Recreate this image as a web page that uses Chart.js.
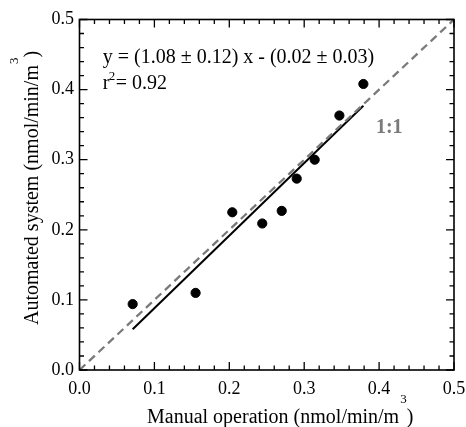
<!DOCTYPE html>
<html>
<head>
<meta charset="utf-8">
<script src="https://cdn.jsdelivr.net/npm/chart.js@4/dist/chart.umd.min.js"></script>
<style>
	html, body { margin: 0; padding: 0; background: #fff; }
	canvas { display: block; }
</style>
</head>
<body>
<canvas id="scatterChart" width="466" height="427"></canvas>
<script>
// measured points: manual vs automated (nmol/min/m3)
const manualX = [0.071, 0.155, 0.204, 0.244, 0.270, 0.290, 0.314, 0.347, 0.379];
const automatedY = [0.094, 0.110, 0.225, 0.209, 0.227, 0.273, 0.300, 0.363, 0.408];

// regression line ends
const fitX = [0.071, 0.379];
const fitY = [0.058, 0.377];

// 1:1 line
const unityX = [0, 0.5];
const unityY = [0, 0.5];

const axisMin = 0;
const axisMax = 0.5;
const minorStep = 0.02;

const serif = "'Liberation Serif', 'Times New Roman', serif";

function toPoints(xs, ys) {
	return xs.map((x, i) => ({ x: x, y: ys[i] }));
}

// рамка, внутренние засечки и подписи
const framePlugin = {
	id: "frame",
	afterDraw(chart) {
		const { ctx, chartArea: a, scales } = chart;
		const xs = scales.x;
		const ys = scales.y;
		ctx.save();

		ctx.strokeStyle = "#000";
		ctx.lineWidth = 1.3;
		const n = Math.round((axisMax - axisMin) / minorStep);
		for (let i = 0; i <= n; i++) {
			const v = axisMin + i * minorStep;
			const len = i % 5 === 0 ? 8 : 4.5;
			const px = xs.getPixelForValue(v);
			const py = ys.getPixelForValue(v);
			ctx.beginPath();
			ctx.moveTo(px, a.bottom); ctx.lineTo(px, a.bottom - len);
			ctx.moveTo(px, a.top); ctx.lineTo(px, a.top + len);
			ctx.moveTo(a.left, py); ctx.lineTo(a.left + len, py);
			ctx.moveTo(a.right, py); ctx.lineTo(a.right - len, py);
			ctx.stroke();
		}
		ctx.lineWidth = 1.6;
		ctx.strokeRect(a.left, a.top, a.right - a.left, a.bottom - a.top);

		// equation
		ctx.fillStyle = "#000";
		ctx.textBaseline = "alphabetic";
		ctx.textAlign = "left";
		ctx.font = "20px " + serif;
		const ex = xs.getPixelForValue(0.031);
		ctx.fillText("y = (1.08 \u00b1 0.12) x - (0.02 \u00b1 0.03)", ex, ys.getPixelForValue(0.4375));
		const ry = ys.getPixelForValue(0.4005);
		ctx.fillText("r", ex, ry);
		ctx.fillText("= 0.92", ex + 13, ry);
		ctx.font = "13px " + serif;
		ctx.fillText("2", ex + 6, ry - 9.5);

		// 1:1 label
		ctx.font = "bold 20px " + serif;
		ctx.fillStyle = "#7a7a7a";
		ctx.textAlign = "center";
		ctx.fillText("1:1", xs.getPixelForValue(0.4136), ys.getPixelForValue(0.3386));

		// axis titles with superscript
		function titleWithSup(main, tail, x, y) {
			ctx.font = "20px " + serif;
			ctx.textAlign = "left";
			const w1 = ctx.measureText(main).width;
			ctx.fillText(main, x, y);
			ctx.font = "13px " + serif;
			ctx.fillText("3", x + w1 + 1, y - 20);
			const w2 = ctx.measureText("3").width;
			ctx.font = "20px " + serif;
			ctx.fillText(tail, x + w1 + w2 + 1, y);
		}
		ctx.fillStyle = "#000";
		titleWithSup("Manual operation (nmol/min/m", ")", 147, 423);

		ctx.translate(38, 325);
		ctx.rotate(-Math.PI / 2);
		titleWithSup("Automated system (nmol/min/m", ")", 0, 0);

		ctx.restore();
	},
};

const ctx = document.getElementById("scatterChart");

const config = {
	type: "scatter",
	data: {
		datasets: [
			{
				label: "1:1",
				type: "line",
				data: toPoints(unityX, unityY),
				borderColor: "#7a7a7a",
				borderWidth: 2.3,
				borderDash: [8, 5],
				pointRadius: 0,
				fill: false,
			},
			{
				label: "fit",
				type: "line",
				data: toPoints(fitX, fitY),
				borderColor: "#000",
				borderWidth: 2,
				pointRadius: 0,
				fill: false,
			},
			{
				label: "data",
				data: toPoints(manualX, automatedY),
				backgroundColor: "#000",
				borderColor: "#000",
				pointRadius: 4.6,
				pointHoverRadius: 4.6,
			},
		],
	},
	options: {
		responsive: false,
		devicePixelRatio: 1,
		animation: false,
		events: [],
		layout: {
			padding: { top: 19.5, right: 12, left: 0, bottom: 0 },
		},
		plugins: {
			legend: { display: false },
			tooltip: { enabled: false },
		},
		scales: {
			x: {
				type: "linear",
				min: axisMin,
				max: axisMax,
				grid: { display: false, drawTicks: false },
				border: { display: false },
				ticks: {
					stepSize: 0.1,
					padding: 8,
					color: "#000",
					font: { family: serif, size: 18 },
					maxRotation: 0,
					callback: (v) => v.toFixed(1),
				},
				afterFit: (scale) => {
					scale.height = 57;
					// let the last label run past the plot edge
					scale.paddingLeft = 0;
					scale.paddingRight = 0;
				},
			},
			y: {
				type: "linear",
				min: axisMin,
				max: axisMax,
				grid: { display: false, drawTicks: false },
				border: { display: false },
				ticks: {
					stepSize: 0.1,
					padding: 5.5,
					color: "#000",
					font: { family: serif, size: 18 },
					callback: (v) => v.toFixed(1),
				},
				afterFit: (scale) => {
					scale.width = 79.5;
					scale.paddingTop = 0;
					scale.paddingBottom = 0;
				},
			},
		},
	},
	plugins: [framePlugin],
};

const chart = new Chart(ctx, config);
</script>
</body>
</html>
